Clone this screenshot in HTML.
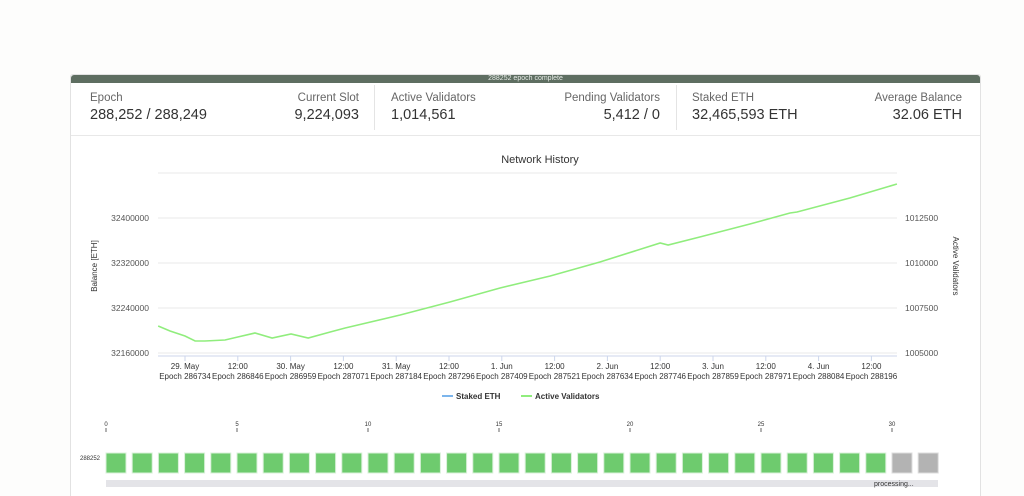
<!DOCTYPE html>
<html style="overflow:hidden;height:496px"><head><meta charset="utf-8"><style>
body{margin:0;width:1024px;height:496px;background:#fdfdfc;font-family:"Liberation Sans",sans-serif;overflow:hidden;position:relative}
.card{position:absolute;left:70px;top:74px;width:909px;height:424px;background:#fff;border:1px solid #e2e2e2;border-bottom:none;border-radius:3px 3px 0 0}
.bar{position:absolute;left:0;top:0;width:100%;height:8px;background:#5e6e61;color:#e8ece8;font-size:7px;line-height:8px;text-align:center;border-radius:3px 3px 0 0}
.stat{position:absolute;top:17px;font-size:11.5px;color:#666}
.val{position:absolute;top:32px;font-size:14.5px;color:#333}
.div{position:absolute;top:10px;width:1px;height:45px;background:#e4e4e4}
.hr{position:absolute;left:0;top:60px;width:100%;height:1px;background:#e8e8e8}
</style></head><body>
<div class="card">
<div class="bar">288252 epoch complete</div>
<div class="stat" style="left:19px">Epoch</div>
<div class="val" style="left:19px">288,252 / 288,249</div>
<div class="stat" style="right:621px">Current Slot</div>
<div class="val" style="right:621px">9,224,093</div>
<div class="div" style="left:303px"></div>
<div class="stat" style="left:320px">Active Validators</div>
<div class="val" style="left:320px">1,014,561</div>
<div class="stat" style="right:320px">Pending Validators</div>
<div class="val" style="right:320px">5,412 / 0</div>
<div class="div" style="left:605px"></div>
<div class="stat" style="left:621px">Staked ETH</div>
<div class="val" style="left:621px">32,465,593 ETH</div>
<div class="stat" style="right:18px">Average Balance</div>
<div class="val" style="right:18px">32.06 ETH</div>
<div class="hr"></div>
</div>
<svg id="chart" width="1024" height="496" style="position:absolute;left:0;top:0" font-family="Liberation Sans, sans-serif"></svg>
<script>
const tickHours=[0,12,24,36,48,60,72,84,96,108,120,132,144,156];
const tickLabels=["29. May","12:00","30. May","12:00","31. May","12:00","1. Jun","12:00","2. Jun","12:00","3. Jun","12:00","4. Jun","12:00"];
const tickEpochs=["286734","286846","286959","287071","287184","287296","287409","287521","287634","287746","287859","287971","288084","288196"];
const leftTicks=[32160000,32240000,32320000,32400000];
const rightTicks=[1005000,1007500,1010000,1012500];
const hours=[-6.1,-3.4,0,2.3,4.5,9.1,12,15.9,19.8,24.1,28,33,36.4,48.9,60.2,71.6,83,94.3,108,109.8,117,128.4,137.5,139.1,151.1,161.8];
const validators=[1006500,1006222,1005944,1005667,1005667,1005722,1005889,1006111,1005833,1006056,1005833,1006167,1006389,1007111,1007833,1008611,1009278,1010056,1011111,1011000,1011444,1012167,1012778,1012833,1013611,1014389];
const slotLabels=[0,5,10,15,20,25,30];
const slotCount=32, doneSlots=30;

const svg=document.getElementById('chart');const NS="http://www.w3.org/2000/svg";
function el(t,a,txt){const e=document.createElementNS(NS,t);for(const k in a)e.setAttribute(k,a[k]);if(txt!==undefined)e.textContent=txt;svg.appendChild(e);return e;}
const x=h=>185+h*52.8/12;
const yL=v=>353-(v-32160000)*45/80000;
const yR=v=>353-(v-1005000)*45/2500;
let t=el('text',{x:540,y:163,'font-size':11,'text-anchor':'middle',fill:'#333'},'Network History');

[32160000,32240000,32320000,32400000,32480000].forEach(v=>{const g=el('line',{x1:158,x2:897,y1:yL(v),y2:yL(v),stroke:'#e8e8e8'});});
leftTicks.forEach(v=>{const e=el('text',{x:149,y:yL(v)+3,'font-size':8.5,'text-anchor':'end',fill:'#555'},v);});
rightTicks.forEach(v=>{const e=el('text',{x:905,y:yR(v)+3,'font-size':8.5,fill:'#555'},v);});
let a=el('text',{x:0,y:0,'font-size':8,'text-anchor':'middle',fill:'#333',transform:'translate(97,266) rotate(-90)'},'Balance [ETH]');
a=el('text',{x:0,y:0,'font-size':8,'text-anchor':'middle',fill:'#333',transform:'translate(953,266) rotate(90)'},'Active Validators');
a=el('line',{x1:158,x2:897,y1:356,y2:356,stroke:'#ccd6eb'});
tickHours.forEach((h,i)=>{const X=x(h);
const tk=el('line',{x1:X,x2:X,y1:356,y2:361,stroke:'#ccd6eb'});
const l=el('text',{x:X,y:369,'font-size':8,'text-anchor':'middle',fill:'#333'},tickLabels[i]);
const e=el('text',{x:X,y:379,'font-size':8,'text-anchor':'middle',fill:'#333'},'Epoch '+tickEpochs[i]);});
const p=el('polyline',{points:hours.map((h,i)=>x(h)+','+yR(validators[i])).join(' '),fill:'none',stroke:'#90ed7d','stroke-width':1.6});

a=el('line',{x1:442,x2:453,y1:396,y2:396,stroke:'#7cb5ec','stroke-width':2});
a=el('text',{x:456,y:399,'font-size':8,'font-weight':'bold',fill:'#333'},'Staked ETH');
a=el('line',{x1:521,x2:532,y1:396,y2:396,stroke:'#90ed7d','stroke-width':2});
a=el('text',{x:535,y:399,'font-size':8,'font-weight':'bold',fill:'#333'},'Active Validators');
const sx=i=>106+i*26.2;
slotLabels.forEach(s=>{const l=el('text',{x:sx(s),y:426,'font-size':6,'text-anchor':'middle',fill:'#333'},s);
const k=el('line',{x1:sx(s),x2:sx(s),y1:428,y2:432,stroke:'#666'});});
a=el('text',{x:80,y:460,'font-size':6,fill:'#333'},'288252');
for(let i=0;i<slotCount;i++){const r=el('rect',{x:sx(i),y:453,width:20,height:20,fill:i<doneSlots?'#6ecb6e':'#b3b3b3',stroke:i<doneSlots?'#d8f0d8':'#ddd','stroke-width':1});
}
a=el('rect',{x:106,y:480,width:832,height:7,fill:'#e4e4e8'});
a=el('text',{x:874,y:486,'font-size':7,fill:'#333'},'processing...');
</script>
</body></html>
